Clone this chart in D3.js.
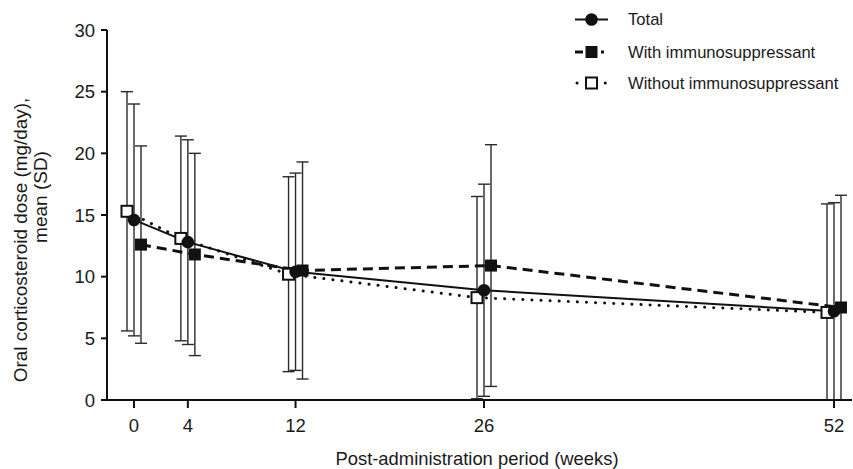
<!DOCTYPE html>
<html>
<head>
<meta charset="utf-8">
<script src="https://cdn.jsdelivr.net/npm/d3@7"></script>
<style>
  body { margin: 0; background: #fff; }
  text { font-family: "Liberation Sans", Arial, sans-serif; fill: #1a1a1a; }
</style>
</head>
<body>
<div id="chart"></div>
<script>
// data
const weeks = [0, 4, 12, 26, 52];
const totalMean = [14.6, 12.8, 10.4, 8.9, 7.2];
const totalSD = [9.4, 8.3, 8.0, 8.6, 8.8];
const withMean = [12.6, 11.8, 10.5, 10.9, 7.5];
const withSD = [8.0, 8.2, 8.8, 9.8, 9.1];
const withoutMean = [15.3, 13.1, 10.2, 8.3, 7.1];
const withoutSD = [9.7, 8.3, 7.9, 8.2, 8.8];
const yTicks = [0, 5, 10, 15, 20, 25, 30];
const seriesNames = ["Total", "With immunosuppressant", "Without immunosuppressant"];

const width = 853, height = 469;
const svg = d3.select("#chart").append("svg")
  .attr("width", width)
  .attr("height", height);

const x = d3.scaleLinear().domain([0, 52]).range([134, 834]);
const y = d3.scaleLinear().domain([0, 30]).range([400, 30]);
const axisLeftX = 107;
const axisRightX = 852;

// series definitions (offset = horizontal dodge in px)
const series = [
  { name: seriesNames[2], mean: withoutMean, sd: withoutSD, offset: -7, dash: "0.1,9", width: 3, round: true, marker: "open" },
  { name: seriesNames[0], mean: totalMean, sd: totalSD, offset: 0, dash: null, width: 2, round: false, marker: "circle" },
  { name: seriesNames[1], mean: withMean, sd: withSD, offset: 7, dash: "10,6", width: 3, round: false, marker: "filled" }
];

function pts(s) {
  return weeks.map((w, i) => ({ x: x(w) + s.offset, m: s.mean[i], sd: s.sd[i] }));
}

// error bars
const capW = 12;
series.forEach(s => {
  const g = svg.append("g").attr("stroke", "#2a2a2a").attr("stroke-width", 1.4).attr("fill", "none");
  pts(s).forEach(p => {
    const hi = p.m + p.sd;
    const lo = Math.max(0, p.m - p.sd);
    g.append("line").attr("x1", p.x).attr("x2", p.x).attr("y1", y(hi)).attr("y2", y(lo));
    g.append("line").attr("x1", p.x - capW / 2).attr("x2", p.x + capW / 2).attr("y1", y(hi)).attr("y2", y(hi));
    if (p.m - p.sd > 0) {
      g.append("line").attr("x1", p.x - capW / 2).attr("x2", p.x + capW / 2).attr("y1", y(lo)).attr("y2", y(lo));
    }
  });
});

// lines
const line = d3.line().x(d => d.x).y(d => y(d.m));
series.forEach(s => {
  svg.append("path")
    .datum(pts(s))
    .attr("d", line)
    .attr("fill", "none")
    .attr("stroke", "#111")
    .attr("stroke-width", s.width)
    .attr("stroke-linecap", s.round ? "round" : "butt")
    .attr("stroke-dasharray", s.dash);
});

function drawMarker(g, type, cx, cy) {
  if (type === "circle") {
    g.append("circle").attr("cx", cx).attr("cy", cy).attr("r", 6.3).attr("fill", "#111");
  } else if (type === "filled") {
    g.append("rect").attr("x", cx - 6).attr("y", cy - 6).attr("width", 12).attr("height", 12).attr("fill", "#111");
  } else {
    g.append("rect").attr("x", cx - 5.5).attr("y", cy - 5.5).attr("width", 11).attr("height", 11)
      .attr("fill", "#fff").attr("stroke", "#111").attr("stroke-width", 2);
  }
}

// markers
series.forEach(s => {
  const g = svg.append("g");
  pts(s).forEach(p => drawMarker(g, s.marker, p.x, y(p.m)));
});

// axes
svg.append("line").attr("x1", axisLeftX).attr("x2", axisLeftX).attr("y1", y(30)).attr("y2", y(0))
  .attr("stroke", "#111").attr("stroke-width", 2);
svg.append("line").attr("x1", axisLeftX - 1).attr("x2", axisRightX).attr("y1", y(0)).attr("y2", y(0))
  .attr("stroke", "#111").attr("stroke-width", 2);

const yAxis = svg.append("g");
yTicks.forEach(t => {
  yAxis.append("line").attr("x1", axisLeftX - 6).attr("x2", axisLeftX).attr("y1", y(t)).attr("y2", y(t))
    .attr("stroke", "#111").attr("stroke-width", 2);
  yAxis.append("text").attr("x", axisLeftX - 12).attr("y", y(t)).attr("dy", "0.36em")
    .attr("text-anchor", "end").attr("font-size", 18.5).text(t);
});

const xAxis = svg.append("g");
weeks.forEach(w => {
  xAxis.append("line").attr("x1", x(w)).attr("x2", x(w)).attr("y1", y(0)).attr("y2", y(0) + 8)
    .attr("stroke", "#111").attr("stroke-width", 2);
  xAxis.append("text").attr("x", x(w)).attr("y", 432)
    .attr("text-anchor", "middle").attr("font-size", 18.5).text(w);
});

svg.append("text").attr("x", 477).attr("y", 465).attr("text-anchor", "middle")
  .attr("font-size", 18.4).text("Post-administration period (weeks)");

svg.append("text").attr("transform", "translate(27,240) rotate(-90)").attr("text-anchor", "middle")
  .attr("font-size", 18.9).text("Oral corticosteroid dose (mg/day),");
svg.append("text").attr("transform", "translate(47,197) rotate(-90)").attr("text-anchor", "middle")
  .attr("font-size", 19).text("mean (SD)");

// legend
const legendY = [19.5, 52, 83];
const legendOrder = [series[1], series[2], series[0]];
legendOrder.forEach((s, i) => {
  const g = svg.append("g");
  const ly = legendY[i];
  let x1 = 575, pattern = null;
  if (s.marker === "filled") pattern = "8,18,3";
  if (s.marker === "open") { x1 = 577; pattern = "0.1,14"; }
  g.append("line").attr("x1", x1).attr("x2", 608).attr("y1", ly).attr("y2", ly)
    .attr("stroke", "#111").attr("stroke-width", s.width)
    .attr("stroke-linecap", s.round ? "round" : "butt")
    .attr("stroke-dasharray", pattern);
  drawMarker(g, s.marker, 591.5, ly);
  g.append("text").attr("x", 628).attr("y", ly).attr("dy", "0.36em").attr("font-size", 16.6).text(s.name);
});
</script>
</body>
</html>
